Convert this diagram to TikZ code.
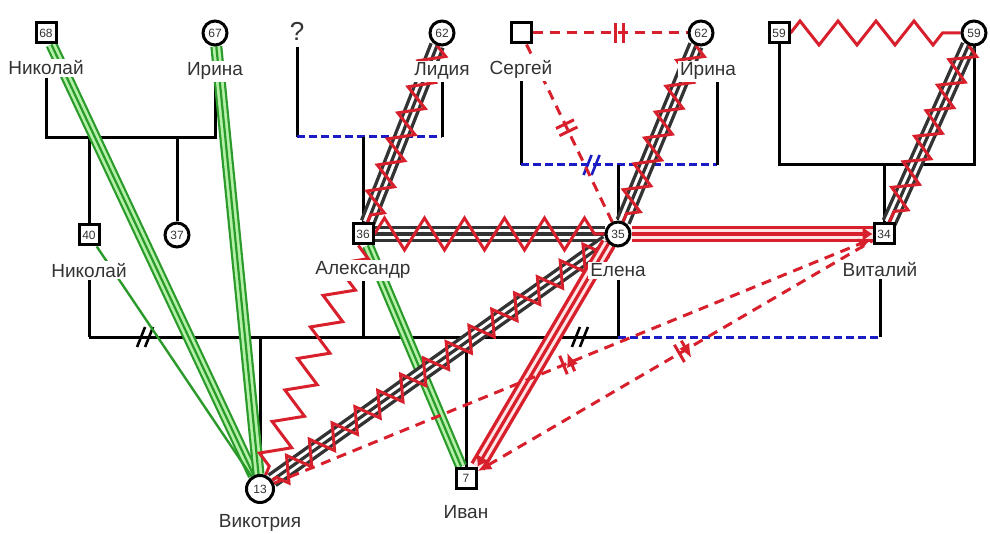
\documentclass[tikz,border=0pt]{standalone}
\usepackage{fontspec}
\setmainfont{Liberation Sans}
\usetikzlibrary{positioning,arrows.meta,decorations.pathmorphing,decorations.markings}

\definecolor{relred}{HTML}{D8202C}
\definecolor{relgreen}{HTML}{2A9A2A}
\definecolor{palegreen}{HTML}{B4F0A8}
\definecolor{famblue}{HTML}{1C1CC4}
\definecolor{txtgray}{HTML}{333333}

\pgfdeclarelayer{lines}
\pgfdeclarelayer{people}
\pgfsetlayers{lines,main,people}

\tikzset{
  male/.style={draw, line width=1.5pt, fill=white, minimum size=10pt, inner sep=0pt, text=txtgray, font=\fontsize{6}{7}\selectfont},
  female/.style={male, circle, minimum size=12pt},
  pname/.style={fill=white, inner sep=1pt, text=txtgray, font=\fontsize{9.5}{11}\selectfont},
  fam/.style={line width=1.5pt},
  famdash/.style={line width=1.5pt, famblue, dash pattern=on 4pt off 2pt},
  closerel/.style={draw=relgreen, line width=6pt, postaction={draw=palegreen, line width=3.8pt}, postaction={draw=relgreen, line width=1.1pt}},
  fused/.style={draw=black!80, line width=8pt, postaction={draw=white, line width=4.6pt}, postaction={draw=black!80, line width=1.6pt}},
  hostile/.style={draw=relred, line width=1.5pt, decorate, decoration={zigzag, amplitude=6pt, segment length=14pt}},
  fusedhostile/.style={fused, decoration={zigzag, amplitude=6pt, segment length=14pt}, postaction={draw=relred, line width=1.5pt, decorate}},
  intense/.style={draw=relred, line width=8pt, postaction={draw=red!10, line width=4.6pt}, postaction={draw=relred, line width=1.6pt, -{Latex[length=5pt,width=8pt]}}},
  distant/.style={draw=relred, line width=1.5pt, dash pattern=on 5pt off 3.5pt},
  cutmark/.style={postaction={decorate, decoration={markings, mark=at position #1 with {\draw[solid, relred, line width=1.5pt] (-2pt,-5pt) -- (-2pt,5pt) (2pt,-5pt) -- (2pt,5pt);}}}},
  divorce/.style 2 args={postaction={decorate, decoration={markings, mark=at position #1 with {\draw[solid, #2, line width=1.3pt] (-4pt,-5pt) -- (0pt,5pt) (0pt,-5pt) -- (4pt,5pt);}}}},
}

\begin{document}
\begin{tikzpicture}[x=0.5pt, y=-0.5pt]
  \useasboundingbox (0,0) rectangle (990,534);

  % people
  \begin{pgfonlayer}{people}
    \node[male] (nik68) at (46,33) {68};
    \node[female] (iri67) at (215,33) {67};
    \node[text=txtgray, font=\fontsize{13}{14}\selectfont] (q) at (297,31) {?};
    \node[female] (lid62) at (442,33) {62};
    \node[male] (ser) at (521,33) {};
    \node[female] (iri62) at (701,33) {62};
    \node[male] (vm59) at (779,33) {59};
    \node[female] (vf59) at (974,33) {59};

    \node[male] (nik40) at (89,235) {40};
    \node[female] (f37) at (177,235) {37};
    \node[male] (ale36) at (363,234) {36};
    \node[female] (ele35) at (618,234) {35};
    \node[male] (vit34) at (884,234) {34};

    \node[female, minimum size=13.5pt] (vik13) at (260,489) {13};
    \node[male] (iva7) at (466,478) {7};

    % names
    \node[pname, below=7pt of nik68] (nik68l) {Николай};
    \node[pname, below=7pt of iri67] (iri67l) {Ирина};
    \node[pname, below=7pt of lid62] (lid62l) {Лидия};
    \node[pname, below=7pt of ser] (serl) {Сергей};
    \node[pname, below=7pt of iri62, xshift=3.5pt] (iri62l) {Ирина};
    \node[pname, below=7pt of nik40] (nik40l) {Николай};
    \node[pname, below=7pt of ale36] (ale36l) {Александр};
    \node[pname, below=7pt of ele35] (ele35l) {Елена};
    \node[pname, below=7pt of vit34, xshift=-2pt] (vit34l) {Виталий};
    \node[pname, below=4pt of vik13] (vik13l) {Викотрия};
    \node[pname, below=7pt of iva7] (iva7l) {Иван};
  \end{pgfonlayer}

  % family lines
  \begin{pgfonlayer}{lines}
    \coordinate (f1) at (133,138);
    \coordinate (f2) at (363,137);
    \coordinate (f3) at (618,165);
    \coordinate (f4) at (884,165);
    \coordinate (f5) at (260,337);
    \coordinate (iri62r) at ([xshift=4.5pt]iri62l.south);

    \draw[fam] (nik68l.south) |- (iri67l.south |- f1) -- (iri67l.south);
    \draw[fam] (nik40 |- f1) -- (nik40);
    \draw[fam] (f37 |- f1) -- (f37);

    \draw[fam] (q.south) -- (q.south |- f2);
    \draw[famdash] (q.south |- f2) -- (lid62l.south |- f2);
    \draw[fam] (lid62l.south |- f2) -- (lid62l.south);
    \draw[fam] (f2) -- (ale36);

    \draw[fam] (serl.south) -- (serl.south |- f3);
    \draw[famdash, divorce={0.36}{famblue}] (serl.south |- f3) -- (iri62r |- f3);
    \draw[fam] (iri62r |- f3) -- (iri62r);
    \draw[fam] (f3) -- (ele35);

    \draw[fam] (vm59.south) |- (vf59 |- f4) -- (vf59);
    \draw[fam] (f4) -- (vit34);

    \draw[fam] (nik40l.south) -- (nik40l.south |- f5);
    \draw[fam, divorce={0.106}{black}, divorce={0.928}{black}] (nik40l.south |- f5) -- (ele35l.south |- f5);
    \draw[fam] (ale36l.south) -- (ale36l.south |- f5);
    \draw[fam] (ele35l.south) -- (ele35l.south |- f5);
    \draw[famdash] (ele35l.south |- f5) -- (vit34l.south |- f5);
    \draw[fam] (vit34l.south |- f5) -- (vit34l.south);
    \draw[fam] (f5) -- (vik13);
    \draw[fam] (iva7 |- f5) -- (iva7);
  \end{pgfonlayer}

  % relations
  \draw[closerel] (nik68) -- (vik13);
  \draw[closerel] (iri67) -- (vik13);
  \draw[closerel] (ale36) -- (iva7);
  \draw[relgreen, line width=1.2pt] (nik40) -- (vik13);
  \draw[hostile, decoration={amplitude=7pt, segment length=17pt}] (ale36) -- (vik13);

  \draw[fusedhostile] (lid62) -- (ale36);
  \draw[fusedhostile] (iri62) -- (ele35);
  \draw[fusedhostile] (vf59) -- (vit34);
  \draw[fusedhostile, decoration={amplitude=8pt, segment length=20pt}] (ale36) -- (ele35);
  \draw[fusedhostile] (ele35) -- (vik13);
  \draw[hostile, decoration={amplitude=6pt, segment length=19pt}] (vm59) -- (vf59);

  \draw[intense] (ele35) -- (vit34);
  \draw[intense] (ele35.south west) -- (iva7.north east);

  \draw[distant, cutmark=0.56] (ser) -- (iri62);
  \draw[distant, cutmark=0.47] (ser) -- (ele35);
  \draw[distant, cutmark=0.49, -{Latex[length=7pt,width=6pt]}] (vik13) -- (vit34);
  \draw[distant, cutmark=0.52, {Latex[length=7pt,width=6pt]}-] (iva7) -- (vit34);
\end{tikzpicture}
\end{document}
